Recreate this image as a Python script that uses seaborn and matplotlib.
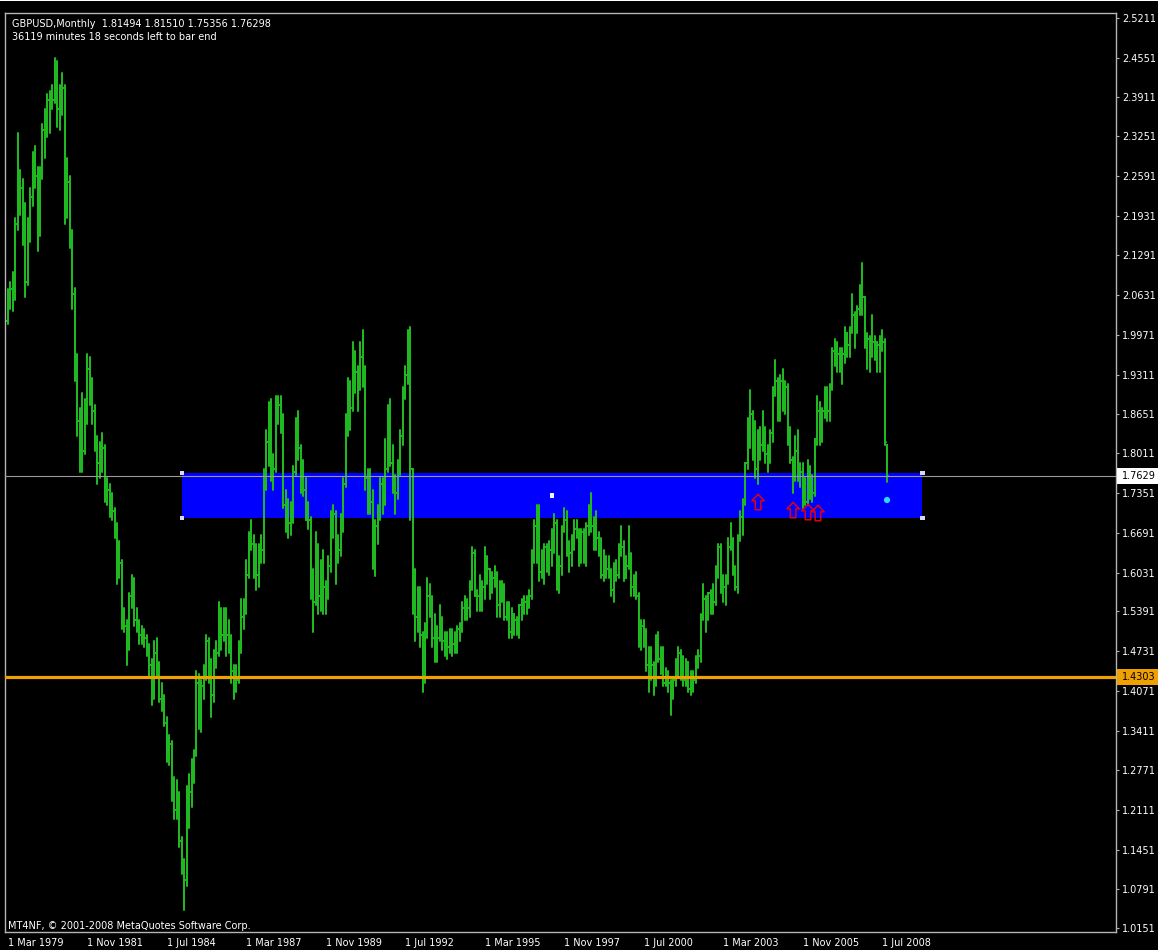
import numpy as np
import pandas as pd
import matplotlib
matplotlib.use("Agg")
import matplotlib.pyplot as plt
from matplotlib.patches import Rectangle
from matplotlib.path import Path
import seaborn as sns

# ---------------- data ----------------
symbol_text = "GBPUSD,Monthly  1.81494 1.81510 1.75356 1.76298"
timer_text = "36119 minutes 18 seconds left to bar end"
copyright_text = "MT4NF, \u00a9 2001-2008 MetaQuotes Software Corp."

# monthly bars, Mar 1979 .. Sep 2008 (one row per year)
opens = [
    2.020, 2.065, 2.072, 2.063, 2.180, 2.255, 2.240, 2.200, 2.085, 2.180,
    2.225, 2.270, 2.260, 2.170, 2.265, 2.335, 2.355, 2.385, 2.390, 2.385, 2.445, 2.370,
    2.390, 2.405, 2.225, 2.250, 2.155, 2.065, 1.960, 1.855, 1.810, 1.805, 1.860, 1.940,
    1.910, 1.870, 1.820, 1.785, 1.790, 1.810, 1.735, 1.740, 1.720, 1.705, 1.680, 1.605,
    1.620, 1.530, 1.515, 1.485, 1.565, 1.590, 1.525, 1.520, 1.500, 1.495, 1.495, 1.480,
    1.450, 1.400, 1.470, 1.445, 1.395, 1.390, 1.355, 1.310, 1.320, 1.235, 1.210, 1.235,
    1.160, 1.125, 1.095, 1.240, 1.240, 1.285, 1.305, 1.420, 1.395, 1.415, 1.430, 1.490,
    1.445, 1.400, 1.460, 1.470, 1.530, 1.500, 1.535, 1.500, 1.485, 1.440, 1.420, 1.425,
    1.475, 1.530, 1.545, 1.600, 1.660, 1.650, 1.610, 1.600, 1.640, 1.640, 1.750, 1.820,
    1.875, 1.780, 1.775, 1.880, 1.880, 1.860, 1.715, 1.705, 1.685, 1.690, 1.770, 1.850,
    1.810, 1.750, 1.740, 1.690, 1.690, 1.570, 1.555, 1.640, 1.565, 1.610, 1.580, 1.570,
    1.615, 1.695, 1.700, 1.640, 1.640, 1.690, 1.750, 1.860, 1.900, 1.875, 1.950, 1.935,
    1.930, 1.960, 1.935, 1.760, 1.730, 1.720, 1.625, 1.680, 1.700, 1.750, 1.725, 1.775,
    1.865, 1.785, 1.745, 1.735, 1.775, 1.830, 1.905, 1.930, 1.990, 1.775, 1.575, 1.530,
    1.510, 1.500, 1.440, 1.505, 1.565, 1.560, 1.495, 1.480, 1.495, 1.515, 1.490, 1.480,
    1.480, 1.505, 1.485, 1.485, 1.510, 1.510, 1.545, 1.540, 1.545, 1.580, 1.635, 1.565,
    1.565, 1.585, 1.580, 1.620, 1.610, 1.590, 1.595, 1.595, 1.550, 1.585, 1.580, 1.530,
    1.550, 1.505, 1.535, 1.525, 1.505, 1.550, 1.550, 1.555, 1.555, 1.565, 1.625, 1.680,
    1.710, 1.605, 1.630, 1.645, 1.625, 1.640, 1.665, 1.685, 1.610, 1.615, 1.675, 1.690,
    1.645, 1.635, 1.645, 1.675, 1.670, 1.635, 1.670, 1.640, 1.680, 1.700, 1.680, 1.650,
    1.660, 1.645, 1.600, 1.610, 1.610, 1.600, 1.575, 1.615, 1.600, 1.645, 1.645, 1.595,
    1.615, 1.620, 1.580, 1.590, 1.565, 1.495, 1.515, 1.495, 1.450, 1.475, 1.450, 1.420,
    1.495, 1.460, 1.440, 1.420, 1.430, 1.420, 1.410, 1.425, 1.450, 1.470, 1.455, 1.425,
    1.455, 1.410, 1.420, 1.425, 1.460, 1.465, 1.530, 1.560, 1.535, 1.570, 1.565, 1.555,
    1.610, 1.645, 1.580, 1.580, 1.595, 1.645, 1.650, 1.610, 1.580, 1.660, 1.695, 1.720,
    1.785, 1.820, 1.865, 1.840, 1.775, 1.830, 1.815, 1.820, 1.800, 1.810, 1.835, 1.905,
    1.920, 1.885, 1.920, 1.890, 1.910, 1.820, 1.790, 1.760, 1.805, 1.765, 1.770, 1.725,
    1.720, 1.775, 1.745, 1.735, 1.825, 1.870, 1.850, 1.870, 1.900, 1.870, 1.910, 1.970,
    1.960, 1.965, 1.960, 1.965, 2.000, 1.980, 2.005, 2.030, 2.015, 2.040, 2.075, 2.060,
    1.990, 1.990, 1.990, 1.985, 1.985, 1.980, 1.990, 1.985, 1.815,
]
highs = [
    2.072, 2.085, 2.100, 2.190, 2.330, 2.270, 2.255, 2.215, 2.190, 2.240,
    2.300, 2.310, 2.275, 2.275, 2.345, 2.370, 2.395, 2.400, 2.410, 2.455, 2.450, 2.410,
    2.430, 2.410, 2.290, 2.260, 2.170, 2.075, 1.965, 1.875, 1.900, 1.890, 1.965, 1.960,
    1.925, 1.880, 1.830, 1.820, 1.835, 1.815, 1.760, 1.750, 1.735, 1.710, 1.685, 1.655,
    1.625, 1.545, 1.525, 1.570, 1.600, 1.595, 1.545, 1.525, 1.515, 1.510, 1.500, 1.485,
    1.460, 1.490, 1.495, 1.455, 1.420, 1.400, 1.365, 1.335, 1.325, 1.265, 1.260, 1.240,
    1.165, 1.130, 1.250, 1.270, 1.295, 1.310, 1.440, 1.435, 1.425, 1.450, 1.500, 1.495,
    1.460, 1.475, 1.490, 1.555, 1.545, 1.545, 1.545, 1.525, 1.500, 1.450, 1.450, 1.490,
    1.560, 1.560, 1.625, 1.670, 1.690, 1.665, 1.650, 1.650, 1.665, 1.775, 1.840, 1.885,
    1.890, 1.800, 1.895, 1.895, 1.895, 1.865, 1.740, 1.725, 1.720, 1.780, 1.860, 1.870,
    1.815, 1.790, 1.760, 1.720, 1.695, 1.610, 1.670, 1.650, 1.625, 1.640, 1.590, 1.630,
    1.705, 1.715, 1.705, 1.665, 1.700, 1.760, 1.865, 1.925, 1.920, 1.985, 1.970, 1.945,
    1.985, 2.005, 1.945, 1.775, 1.775, 1.740, 1.690, 1.715, 1.760, 1.760, 1.825, 1.880,
    1.890, 1.815, 1.765, 1.790, 1.840, 1.910, 1.945, 2.005, 2.010, 1.775, 1.610, 1.580,
    1.580, 1.505, 1.520, 1.595, 1.585, 1.565, 1.535, 1.515, 1.550, 1.530, 1.505, 1.505,
    1.510, 1.510, 1.505, 1.515, 1.520, 1.555, 1.565, 1.560, 1.590, 1.645, 1.640, 1.575,
    1.600, 1.590, 1.645, 1.630, 1.610, 1.605, 1.615, 1.605, 1.590, 1.590, 1.585, 1.555,
    1.555, 1.545, 1.535, 1.530, 1.550, 1.560, 1.565, 1.565, 1.575, 1.640, 1.690, 1.715,
    1.715, 1.640, 1.650, 1.650, 1.655, 1.675, 1.700, 1.690, 1.630, 1.680, 1.710, 1.705,
    1.655, 1.665, 1.690, 1.690, 1.675, 1.675, 1.675, 1.685, 1.715, 1.735, 1.695, 1.705,
    1.670, 1.660, 1.640, 1.630, 1.630, 1.610, 1.620, 1.625, 1.650, 1.680, 1.655, 1.630,
    1.680, 1.635, 1.600, 1.605, 1.570, 1.525, 1.525, 1.510, 1.480, 1.480, 1.455, 1.500,
    1.505, 1.480, 1.480, 1.445, 1.440, 1.425, 1.430, 1.460, 1.480, 1.475, 1.465, 1.460,
    1.455, 1.440, 1.440, 1.465, 1.475, 1.535, 1.585, 1.565, 1.570, 1.575, 1.585, 1.615,
    1.650, 1.650, 1.600, 1.600, 1.660, 1.685, 1.660, 1.615, 1.665, 1.705, 1.725, 1.785,
    1.860, 1.905, 1.870, 1.855, 1.840, 1.845, 1.870, 1.845, 1.815, 1.840, 1.910, 1.955,
    1.925, 1.930, 1.940, 1.920, 1.915, 1.845, 1.795, 1.830, 1.840, 1.785, 1.785, 1.760,
    1.790, 1.780, 1.765, 1.825, 1.895, 1.885, 1.875, 1.910, 1.910, 1.915, 1.975, 1.990,
    1.985, 1.975, 1.975, 2.010, 2.000, 2.010, 2.065, 2.035, 2.045, 2.080, 2.115, 2.060,
    2.000, 1.995, 2.030, 1.995, 1.985, 1.995, 2.005, 1.990, 1.815,
]
lows = [
    2.015, 2.040, 2.036, 2.055, 2.170, 2.195, 2.145, 2.060, 2.080, 2.150,
    2.210, 2.240, 2.135, 2.160, 2.255, 2.290, 2.325, 2.330, 2.370, 2.380, 2.340, 2.335,
    2.360, 2.180, 2.190, 2.140, 2.040, 1.920, 1.830, 1.770, 1.770, 1.800, 1.850, 1.880,
    1.850, 1.805, 1.750, 1.760, 1.770, 1.720, 1.715, 1.695, 1.690, 1.660, 1.585, 1.595,
    1.510, 1.505, 1.450, 1.475, 1.545, 1.515, 1.505, 1.485, 1.485, 1.480, 1.465, 1.430,
    1.385, 1.395, 1.430, 1.390, 1.375, 1.350, 1.290, 1.285, 1.225, 1.195, 1.195, 1.150,
    1.105, 1.045, 1.085, 1.180, 1.215, 1.255, 1.300, 1.345, 1.340, 1.395, 1.425, 1.420,
    1.365, 1.390, 1.445, 1.465, 1.475, 1.490, 1.465, 1.470, 1.420, 1.395, 1.405, 1.420,
    1.470, 1.510, 1.535, 1.595, 1.640, 1.595, 1.575, 1.580, 1.620, 1.620, 1.740, 1.780,
    1.755, 1.740, 1.770, 1.850, 1.835, 1.710, 1.670, 1.660, 1.665, 1.685, 1.765, 1.790,
    1.735, 1.730, 1.690, 1.675, 1.560, 1.505, 1.550, 1.535, 1.540, 1.535, 1.535, 1.560,
    1.605, 1.660, 1.585, 1.620, 1.630, 1.670, 1.745, 1.830, 1.840, 1.870, 1.900, 1.870,
    1.905, 1.910, 1.740, 1.700, 1.700, 1.610, 1.597, 1.650, 1.690, 1.700, 1.715, 1.770,
    1.780, 1.735, 1.700, 1.725, 1.765, 1.815, 1.890, 1.915, 1.690, 1.535, 1.490, 1.505,
    1.480, 1.405, 1.420, 1.495, 1.530, 1.480, 1.455, 1.455, 1.490, 1.475, 1.465, 1.460,
    1.470, 1.465, 1.470, 1.470, 1.490, 1.505, 1.525, 1.525, 1.530, 1.575, 1.565, 1.540,
    1.540, 1.540, 1.560, 1.585, 1.560, 1.570, 1.580, 1.530, 1.530, 1.555, 1.525, 1.525,
    1.495, 1.495, 1.500, 1.500, 1.495, 1.525, 1.535, 1.535, 1.545, 1.560, 1.620, 1.620,
    1.590, 1.595, 1.585, 1.605, 1.600, 1.615, 1.635, 1.575, 1.570, 1.600, 1.670, 1.630,
    1.605, 1.615, 1.640, 1.660, 1.615, 1.620, 1.620, 1.615, 1.665, 1.670, 1.640, 1.640,
    1.630, 1.595, 1.590, 1.595, 1.595, 1.565, 1.555, 1.590, 1.595, 1.630, 1.590, 1.595,
    1.610, 1.565, 1.565, 1.560, 1.480, 1.475, 1.480, 1.440, 1.405, 1.425, 1.400, 1.415,
    1.455, 1.435, 1.415, 1.415, 1.405, 1.368, 1.395, 1.415, 1.430, 1.425, 1.415, 1.415,
    1.405, 1.400, 1.405, 1.420, 1.445, 1.455, 1.525, 1.505, 1.525, 1.535, 1.535, 1.550,
    1.595, 1.570, 1.555, 1.550, 1.585, 1.640, 1.600, 1.575, 1.570, 1.655, 1.665, 1.715,
    1.775, 1.810, 1.790, 1.760, 1.750, 1.790, 1.805, 1.785, 1.770, 1.785, 1.820, 1.895,
    1.855, 1.855, 1.870, 1.865, 1.815, 1.785, 1.735, 1.755, 1.755, 1.745, 1.710, 1.715,
    1.715, 1.725, 1.720, 1.730, 1.815, 1.815, 1.820, 1.860, 1.855, 1.855, 1.905, 1.945,
    1.935, 1.935, 1.915, 1.950, 1.960, 1.960, 2.000, 1.975, 2.000, 2.030, 2.030, 1.975,
    1.940, 1.935, 1.960, 1.955, 1.935, 1.935, 1.970, 1.815, 1.754,
]
closes = [
    2.065, 2.072, 2.063, 2.180, 2.255, 2.240, 2.200, 2.085, 2.180, 2.225,
    2.270, 2.260, 2.170, 2.265, 2.335, 2.355, 2.385, 2.390, 2.385, 2.445, 2.370, 2.390,
    2.405, 2.225, 2.250, 2.155, 2.065, 1.960, 1.855, 1.810, 1.805, 1.860, 1.940, 1.910,
    1.870, 1.820, 1.785, 1.790, 1.810, 1.735, 1.740, 1.720, 1.705, 1.680, 1.605, 1.620,
    1.530, 1.515, 1.485, 1.565, 1.590, 1.525, 1.520, 1.500, 1.495, 1.495, 1.480, 1.450,
    1.400, 1.470, 1.445, 1.395, 1.390, 1.355, 1.310, 1.320, 1.235, 1.210, 1.235, 1.160,
    1.125, 1.095, 1.240, 1.240, 1.285, 1.305, 1.420, 1.395, 1.415, 1.430, 1.490, 1.445,
    1.400, 1.460, 1.470, 1.530, 1.500, 1.535, 1.500, 1.485, 1.440, 1.420, 1.425, 1.475,
    1.530, 1.545, 1.600, 1.660, 1.650, 1.610, 1.600, 1.640, 1.640, 1.750, 1.820, 1.875,
    1.780, 1.775, 1.880, 1.880, 1.860, 1.715, 1.705, 1.685, 1.690, 1.770, 1.850, 1.810,
    1.750, 1.740, 1.690, 1.690, 1.570, 1.555, 1.640, 1.565, 1.610, 1.580, 1.570, 1.615,
    1.695, 1.700, 1.640, 1.640, 1.690, 1.750, 1.860, 1.900, 1.875, 1.950, 1.935, 1.930,
    1.960, 1.935, 1.760, 1.730, 1.720, 1.625, 1.680, 1.700, 1.750, 1.725, 1.775, 1.865,
    1.785, 1.745, 1.735, 1.775, 1.830, 1.905, 1.930, 1.990, 1.775, 1.575, 1.530, 1.510,
    1.500, 1.440, 1.505, 1.565, 1.560, 1.495, 1.480, 1.495, 1.515, 1.490, 1.480, 1.480,
    1.505, 1.485, 1.485, 1.510, 1.510, 1.545, 1.540, 1.545, 1.580, 1.635, 1.565, 1.565,
    1.585, 1.580, 1.620, 1.610, 1.590, 1.595, 1.595, 1.550, 1.585, 1.580, 1.530, 1.550,
    1.505, 1.535, 1.525, 1.505, 1.550, 1.550, 1.555, 1.555, 1.565, 1.625, 1.680, 1.710,
    1.605, 1.630, 1.645, 1.625, 1.640, 1.665, 1.685, 1.610, 1.615, 1.675, 1.690, 1.645,
    1.635, 1.645, 1.675, 1.670, 1.635, 1.670, 1.640, 1.680, 1.700, 1.680, 1.650, 1.660,
    1.645, 1.600, 1.610, 1.610, 1.600, 1.575, 1.615, 1.600, 1.645, 1.645, 1.595, 1.615,
    1.620, 1.580, 1.590, 1.565, 1.495, 1.515, 1.495, 1.450, 1.475, 1.450, 1.420, 1.495,
    1.460, 1.440, 1.420, 1.430, 1.420, 1.410, 1.425, 1.450, 1.470, 1.455, 1.425, 1.455,
    1.410, 1.420, 1.425, 1.460, 1.465, 1.530, 1.560, 1.535, 1.570, 1.565, 1.555, 1.610,
    1.645, 1.580, 1.580, 1.595, 1.645, 1.650, 1.610, 1.580, 1.660, 1.695, 1.720, 1.785,
    1.820, 1.865, 1.840, 1.775, 1.830, 1.815, 1.820, 1.800, 1.810, 1.835, 1.905, 1.920,
    1.885, 1.920, 1.890, 1.910, 1.820, 1.790, 1.760, 1.805, 1.765, 1.770, 1.725, 1.720,
    1.775, 1.745, 1.735, 1.825, 1.870, 1.850, 1.870, 1.900, 1.870, 1.910, 1.970, 1.960,
    1.965, 1.960, 1.965, 2.000, 1.980, 2.005, 2.030, 2.015, 2.040, 2.075, 2.060, 1.990,
    1.990, 1.990, 1.985, 1.985, 1.980, 1.990, 1.985, 1.820, 1.763,
]

price_ticks = [2.5211, 2.4551, 2.3911, 2.3251, 2.2591, 2.1931, 2.1291, 2.0631,
               1.9971, 1.9311, 1.8651, 1.8011, 1.7351, 1.6691, 1.6031, 1.5391,
               1.4731, 1.4071, 1.3411, 1.2771, 1.2111, 1.1451, 1.0791, 1.0151]
date_tick_months = [0, 32, 64, 96, 128, 160, 192, 224, 256, 288, 320, 352]
date_tick_labels = ["1 Mar 1979", "1 Nov 1981", "1 Jul 1984", "1 Mar 1987",
                    "1 Nov 1989", "1 Jul 1992", "1 Mar 1995", "1 Nov 1997",
                    "1 Jul 2000", "1 Mar 2003", "1 Nov 2005", "1 Jul 2008"]

bid_price = 1.7629
level_price = 1.4303
zone_left, zone_right = 70.2, 368.2
zone_top, zone_bottom = 1.7682, 1.6937
arrow_months = [302.1, 316.2, 322.2, 326.2]
arrow_prices = [1.7202, 1.7069, 1.7036, 1.7020]
dot_month, dot_price = 354.0, 1.7235

# ---------------- style ----------------
GREEN = "#20B820"
FRAME = "#B4B4B4"
sns.set_theme(style="dark", rc={
    "axes.facecolor": "black", "figure.facecolor": "black",
    "axes.edgecolor": FRAME, "text.color": "white",
    "xtick.color": FRAME, "ytick.color": FRAME,
    "axes.grid": False,
})
plt.rcParams["font.family"] = ["DejaVu Sans"]

W, H = 1158, 950
fig = plt.figure(figsize=(W / 100, H / 100), dpi=100, facecolor="black")
px_l, px_r, px_t, px_b = 5, 1116, 13, 932
ax = fig.add_axes([px_l / W, 1 - px_b / H, (px_r - px_l) / W, (px_b - px_t) / H])
ax.set_facecolor("black")

# zone rectangle (background object)
ax.add_patch(Rectangle((zone_left, zone_bottom), zone_right - zone_left,
                       zone_top - zone_bottom, facecolor="#0000FF",
                       edgecolor="none", zorder=0.5))

# OHLC bars
tick_len = 0.5
rows = []
for i in range(len(closes)):
    rows += [(3 * i, i, lows[i]), (3 * i, i, highs[i]),
             (3 * i + 1, i - tick_len, opens[i]), (3 * i + 1, i, opens[i]),
             (3 * i + 2, i, closes[i]), (3 * i + 2, i + tick_len, closes[i])]
bars = pd.DataFrame(rows, columns=["seg", "month", "price"])
sns.lineplot(data=bars, x="month", y="price", units="seg", estimator=None,
             sort=False, color=GREEN, linewidth=1.45, ax=ax, legend=False,
             zorder=2)

# horizontal lines
ax.axhline(bid_price, color="#9A9A9A", lw=0.8, zorder=3)
ax.axhline(level_price, color="#F0A000", lw=2.3, zorder=3)

# zone handles
ax.scatter([zone_left, zone_left, zone_right, zone_right],
           [zone_top, zone_bottom, zone_top, zone_bottom],
           marker="s", s=12, color="#D8D8FF", edgecolors="none", zorder=4)
ax.scatter([(zone_left + zone_right) / 2], [(zone_top + zone_bottom) / 2],
           marker="s", s=9, color="#F0F0FF", edgecolors="none", zorder=4)

# up arrows
arrow_path = Path([(0, 1), (-0.8, 0.15), (-0.36, 0.15), (-0.36, -1),
                   (0.36, -1), (0.36, 0.15), (0.8, 0.15), (0, 1)],
                  [Path.MOVETO] + [Path.LINETO] * 6 + [Path.CLOSEPOLY])
ax.scatter(arrow_months, arrow_prices, marker=arrow_path, s=125,
           facecolors="none", edgecolors="#E00010", linewidths=1.1, zorder=5)
ax.scatter([dot_month], [dot_price], marker="o", s=20, color="#30D8F8",
           edgecolors="none", zorder=5)

# limits
ax.set_xlim(-1.09, 446.2)
ax.set_ylim(1.0086, 2.5294)
ax.set_xlabel("")
ax.set_ylabel("")

# axes / ticks
for s in ax.spines.values():
    s.set_color(FRAME)
    s.set_linewidth(1.0)
ax.yaxis.tick_right()
ax.set_yticks(price_ticks)
ax.set_yticklabels([f"{v:.4f}" for v in price_ticks])
ax.set_xticks(date_tick_months)
ax.set_xticklabels(date_tick_labels)
for lab in ax.get_xticklabels():
    lab.set_horizontalalignment("left")
ax.tick_params(axis="y", direction="out", length=2.2, width=0.8,
               color=FRAME, labelcolor="white", labelsize=7, pad=2,
               left=False, right=True)
ax.tick_params(axis="x", direction="out", length=2.2, width=0.8,
               color=FRAME, labelcolor="white", labelsize=7, pad=2)

# price labels on the right
ytrans = ax.get_yaxis_transform()
box_h = 8 / 604.3
box_x0 = (1117 - px_l) / (px_r - px_l)
box_w = (W - 1117) / (px_r - px_l)
txt_x = (1122 - px_l) / (px_r - px_l)
for price, fc in [(bid_price, "white"), (level_price, "#F0A000")]:
    ax.add_patch(Rectangle((box_x0, price - box_h), box_w, 2 * box_h,
                           transform=ytrans, facecolor=fc, edgecolor="none",
                           clip_on=False, zorder=6))
    ax.text(txt_x, price, f"{price:.4f}", transform=ytrans, color="black",
            fontsize=7, va="center", ha="left", clip_on=False, zorder=7)

# texts
ax.text((12 - px_l) / (px_r - px_l), 1 - (24 - px_t) / (px_b - px_t),
        symbol_text, transform=ax.transAxes, color="white", fontsize=7,
        va="center", ha="left")
ax.text((12 - px_l) / (px_r - px_l), 1 - (37 - px_t) / (px_b - px_t),
        timer_text, transform=ax.transAxes, color="white", fontsize=7,
        va="center", ha="left")
ax.text((8 - px_l) / (px_r - px_l), 1 - (926 - px_t) / (px_b - px_t),
        copyright_text, transform=ax.transAxes, color="white", fontsize=7,
        va="center", ha="left")

# thin white strip at very top
fig.add_artist(Rectangle((0, 1 - 1 / H), 1, 1 / H, transform=fig.transFigure,
                         facecolor="white", edgecolor="none"))

fig.savefig("out.png", dpi=100, facecolor="black")
